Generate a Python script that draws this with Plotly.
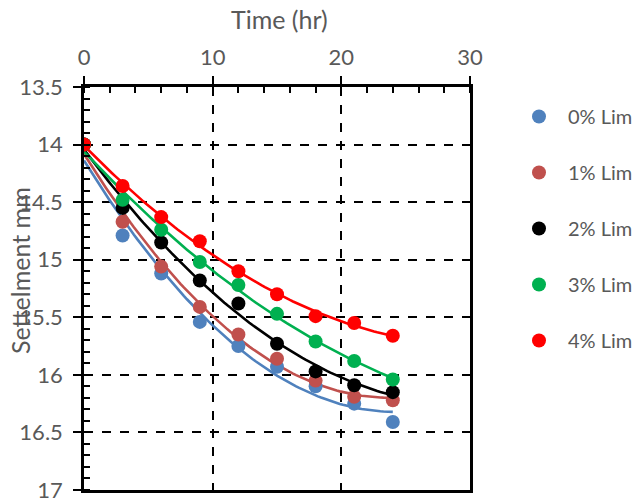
import numpy as np
import plotly.graph_objects as go

time_hr = [0, 3, 6, 9, 12, 15, 18, 21, 24]
series_names = ["0% Lim", "1% Lim", "2% Lim", "3% Lim", "4% Lim"]
lim0 = [14.0, 14.79, 15.12, 15.54, 15.75, 15.93, 16.10, 16.25, 16.41]
lim1 = [14.0, 14.67, 15.06, 15.41, 15.65, 15.86, 16.05, 16.19, 16.22]
lim2 = [14.0, 14.55, 14.85, 15.18, 15.38, 15.73, 15.97, 16.09, 16.15]
lim3 = [14.0, 14.48, 14.74, 15.02, 15.22, 15.47, 15.71, 15.88, 16.04]
lim4 = [14.0, 14.36, 14.63, 14.84, 15.10, 15.30, 15.49, 15.55, 15.66]
series_values = [lim0, lim1, lim2, lim3, lim4]
colors = ["#4F81BD", "#C0504D", "#000000", "#00B050", "#FF0000"]

x_ticks = [0, 10, 20, 30]
y_ticks = [13.5, 14, 14.5, 15, 15.5, 16, 16.5, 17]

FONT = "Lato, 'Liberation Sans', sans-serif"
GREY = "#595959"
FS = 22
FT = 25

W, H = 639, 500
L, R, T, B = 84, 169, 87, 10
PW, PH = W - L - R, H - T - B


def px(xp):
    return (xp - L) / PW


def py(yp):
    return (H - B - yp) / PH


fig = go.Figure()
t_fine = np.linspace(min(time_hr), max(time_hr), 100)
for name, vals, col in zip(series_names, series_values, colors):
    coef = np.polyfit(time_hr, vals, 2)
    fig.add_trace(go.Scatter(x=t_fine, y=np.polyval(coef, t_fine), mode="lines",
                             line=dict(color=col, width=2.6), showlegend=False,
                             hoverinfo="skip"))
for i, (name, vals, col) in enumerate(zip(series_names, series_values, colors)):
    fig.add_trace(go.Scatter(x=time_hr, y=vals, mode="markers", name=name,
                             legendgroup=f"g{i}",
                             marker=dict(color=col, size=14)))

fig.update_layout(
    width=W, height=H,
    margin=dict(l=L, r=R, t=T, b=B, autoexpand=False),
    paper_bgcolor="white", plot_bgcolor="white",
    font=dict(family=FONT, size=FS, color=GREY),
    legend=dict(x=px(510), y=py(97), xanchor="left", yanchor="top",
                tracegroupgap=27, font=dict(size=20, color=GREY),
                itemwidth=48, bgcolor="rgba(0,0,0,0)", maxheight=480),
    annotations=[
        dict(text="Settelment mm", x=px(20), y=py(271),
             xref="paper", yref="paper", showarrow=False, textangle=-90,
             xanchor="center", yanchor="middle", font=dict(size=FT, color=GREY)),
        dict(text="Time (hr)", x=px(279), y=py(19),
             xref="paper", yref="paper", showarrow=False,
             xanchor="center", yanchor="middle", font=dict(size=FT, color=GREY)),
    ],
)

fig.update_xaxes(
    side="top", range=[0, 30], tickvals=x_ticks, ticktext=[str(v) for v in x_ticks],
    automargin=False, ticklabeloverflow="allow",
    showline=True, linecolor="black", linewidth=2.5, mirror=True,
    ticks="outside", ticklen=8, tickwidth=2, tickcolor="black",
    ticklabelstandoff=2,
    minor=dict(dtick=2, ticks="inside", ticklen=6, tickwidth=2, tickcolor="black", showgrid=False),
    showgrid=True, gridcolor="black", griddash="dash", gridwidth=1.5,
    zeroline=False, tickfont=dict(size=FS, color=GREY),
)
fig.update_yaxes(
    range=[17, 13.5], tickvals=y_ticks, ticktext=[f"{v:g}" for v in y_ticks],
    automargin=False, ticklabeloverflow="allow",
    showline=True, linecolor="black", linewidth=2.5, mirror=True,
    ticks="outside", ticklen=8, tickwidth=2, tickcolor="black",
    ticklabelstandoff=6,
    minor=dict(dtick=0.1, ticks="inside", ticklen=6, tickwidth=2, tickcolor="black", showgrid=False),
    showgrid=True, gridcolor="black", griddash="dash", gridwidth=1.5,
    zeroline=False, tickfont=dict(size=FS, color=GREY),
)

fig.write_html("out.html", config={"displayModeBar": False},
               post_script="document.body.style.margin='0';document.body.style.overflow='hidden';")
